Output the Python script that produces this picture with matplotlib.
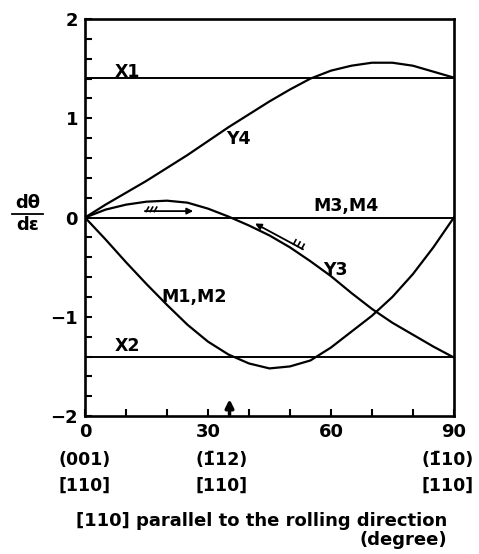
import matplotlib.pyplot as plt
from matplotlib.lines import Line2D
import numpy as np

plt.rcParams['font.family'] = ['DejaVu Sans']
plt.rcParams['font.weight'] = 'bold'

# values (degree vs d theta / d epsilon)
angle = [0, 5, 10, 15, 20, 25, 30, 35, 40, 45, 50, 55, 60, 65, 70, 75, 80, 85, 90]
y4 = [0, 0.13, 0.25, 0.37, 0.50, 0.63, 0.77, 0.91, 1.04, 1.17, 1.29, 1.40, 1.48, 1.53, 1.56, 1.56, 1.53, 1.47, 1.41]
y3 = [0, 0.08, 0.13, 0.16, 0.17, 0.15, 0.09, 0.01, -0.08, -0.18, -0.30, -0.44, -0.59, -0.76, -0.92, -1.06, -1.18, -1.30, -1.41]
m12 = [0, -0.22, -0.45, -0.67, -0.88, -1.08, -1.25, -1.38, -1.47, -1.52, -1.50, -1.44, -1.31, -1.15, -0.99, -0.80, -0.57, -0.30, 0]
x1_level = 1.41
x2_level = -1.41
m34_level = 0.0

xticks = [0, 30, 60, 90]
yticks = [-2, -1, 0, 1, 2]
hkl_labels = ["(001)\n[110]", "(1\u030412)\n[110]", "(1\u030410)\n[110]"]
hkl_at = [0, 30, 90]
special_angle = 35.26  # (-112) orientation marked by the arrow

fig = plt.figure(figsize=(4.79, 5.54), dpi=100)
ax = fig.add_axes([0.1775, 0.249, 0.770, 0.7166])

lw = 1.6
ax.plot(angle, y4, color='k', lw=lw)
ax.plot(angle, y3, color='k', lw=lw)
ax.plot(angle, m12, color='k', lw=lw)
ax.axhline(x1_level, color='k', lw=1.4)
ax.axhline(x2_level, color='k', lw=1.4)
ax.axhline(m34_level, color='k', lw=1.4)

ax.set_xlim(0, 90)
ax.set_ylim(-2, 2)
ax.set_xticks(xticks)
ax.set_xticks(range(0, 91, 10), minor=True)
ax.set_yticks(yticks)
ax.set_yticks(np.arange(-2, 2.01, 0.2), minor=True)
ax.tick_params(which='both', direction='in', length=5, width=1.5, labelsize=13, pad=5)
for s in ax.spines.values():
    s.set_linewidth(1.9)

fs = 12.5
ax.text(7.3, 1.47, "X1", fontsize=fs, va='center')
ax.text(34.5, 0.79, "Y4", fontsize=fs, va='center')
ax.text(55.7, 0.03, "M3,M4", fontsize=fs, va='bottom')
ax.text(58.1, -0.53, "Y3", fontsize=fs, va='center')
ax.text(18.7, -0.80, "M1,M2", fontsize=fs, va='center')
ax.text(7.3, -1.38, "X2", fontsize=fs, va='bottom')

# shear arrows along Y3
arr = dict(arrowstyle='-|>', lw=1.3, color='k', mutation_scale=9, shrinkA=0, shrinkB=0)
ax.annotate('', xy=(26.4, 0.065), xytext=(14.6, 0.065), arrowprops=arr)
for x in (14.9, 15.9, 16.9):
    ax.plot([x, x + 0.6], [0.06, 0.105], color='k', lw=1.2)
ax.annotate('', xy=(41.5, -0.06), xytext=(53.2, -0.32), arrowprops=arr)
for x, y in ((52.9, -0.313), (51.9, -0.29), (50.9, -0.268)):
    ax.plot([x, x + 0.57], [y, y + 0.044], color='k', lw=1.2)

# marker arrow at the bottom axis
ax.annotate('', xy=(special_angle, -1.83), xytext=(special_angle, -1.99),
            arrowprops=dict(arrowstyle='-|>', lw=2.5, color='k', mutation_scale=12,
                            shrinkA=0, shrinkB=0))

# Miller index labels under the ticks
aligns = [('center', 0), ('left', -9), ('right', 14)]
for txt, x, (ha, dx) in zip(hkl_labels, hkl_at, aligns):
    ax.annotate(txt, xy=(x, 0), xycoords=('data', 'axes fraction'),
                xytext=(dx, -41), textcoords='offset points', ha=ha, va='center',
                multialignment=ha, fontsize=12.5, linespacing=1.5)

fig.text(0.933, 0.042, "[110] parallel to the rolling direction\n(degree)",
         ha='right', va='center', multialignment='right', fontsize=13, linespacing=1.05)

# y label as a stacked fraction
fx = 27.5 / 479
fig.text(fx, 1 - 202.5 / 554, "d\u03b8", ha='center', va='center', fontsize=13)
fig.text(fx, 1 - 225 / 554, "d\u03b5", ha='center', va='center', fontsize=13)
fig.add_artist(Line2D([12 / 479, 43 / 479], [1 - 214 / 554, 1 - 214 / 554], color='k', lw=1.3))

fig.savefig('out.png', dpi=100)
